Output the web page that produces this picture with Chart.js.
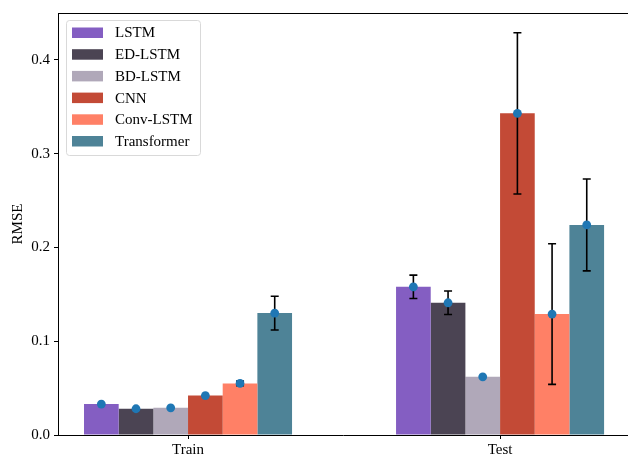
<!DOCTYPE html>
<html lang="en">
  <head>
    <meta charset="UTF-8" />
    <title>RMSE - Train vs Test</title>
    <script src="https://cdnjs.cloudflare.com/ajax/libs/Chart.js/4.4.1/chart.umd.min.js"></script>
    <style>
      html, body { margin: 0; padding: 0; background: #fff; overflow: hidden; }
      .chart-container { width: 628px; height: 456px; }
    </style>
  </head>
  <body>
    <div class="chart-container"><canvas id="rmseChart"></canvas></div>
    <script>
      // categories on the x axis (placed at x = 0 and x = 1)
      const categories = ["Train", "Test"];
      const models = ["LSTM", "ED-LSTM", "BD-LSTM", "CNN", "Conv-LSTM", "Transformer"];
      const colors = ["#845EC2", "#4B4453", "#B0A8B9", "#C34A36", "#FF8066", "#4E8397"];

      // mean RMSE [Train, Test]
      const lstmMean = [0.033, 0.158];
      const edLstmMean = [0.028, 0.141];
      const bdLstmMean = [0.029, 0.062];
      const cnnMean = [0.042, 0.343];
      const convLstmMean = [0.055, 0.129];
      const transformerMean = [0.130, 0.224];

      // error bar half-length [Train, Test]
      const lstmErr = [0.0, 0.0125];
      const edLstmErr = [0.0, 0.0125];
      const bdLstmErr = [0.0, 0.0];
      const cnnErr = [0.0, 0.086];
      const convLstmErr = [0.0025, 0.075];
      const transformerErr = [0.018, 0.049];

      const yTicks = [0, 0.1, 0.2, 0.3, 0.4];

      const means = [lstmMean, edLstmMean, bdLstmMean, cnnMean, convLstmMean, transformerMean];
      const errs = [lstmErr, edLstmErr, bdLstmErr, cnnErr, convLstmErr, transformerErr];

      const FONT = "'Liberation Serif', 'Times New Roman', serif";
      Chart.defaults.font.family = FONT;
      Chart.defaults.font.size = 15;
      Chart.defaults.color = "#000";

      const datasets = models.map((name, i) => ({
        label: name,
        data: means[i].map((v, j) => ({ x: j, y: v })),
        errors: errs[i],
        backgroundColor: colors[i],
        borderWidth: 0,
        categoryPercentage: 0.6667,
        barPercentage: 1.0
      }));

      // error bars + blue mean markers, placed on each bar element
      const markersPlugin = {
        id: "markers",
        afterDatasetsDraw(chart) {
          const ctx = chart.ctx;
          const y = chart.scales.y;
          ctx.save();
          chart.data.datasets.forEach((ds, i) => {
            const meta = chart.getDatasetMeta(i);
            meta.data.forEach((bar, j) => {
              const v = ds.data[j].y;
              const e = ds.errors[j];
              if (e > 0) {
                const top = y.getPixelForValue(v + e);
                const bot = y.getPixelForValue(v - e);
                ctx.strokeStyle = "#000";
                ctx.lineWidth = 1.6;
                ctx.beginPath();
                ctx.moveTo(bar.x, top);
                ctx.lineTo(bar.x, bot);
                ctx.moveTo(bar.x - 4, top);
                ctx.lineTo(bar.x + 4, top);
                ctx.moveTo(bar.x - 4, bot);
                ctx.lineTo(bar.x + 4, bot);
                ctx.stroke();
              }
            });
          });
          chart.data.datasets.forEach((ds, i) => {
            const meta = chart.getDatasetMeta(i);
            meta.data.forEach((bar, j) => {
              ctx.fillStyle = "#1f77b4";
              ctx.beginPath();
              ctx.arc(bar.x, y.getPixelForValue(ds.data[j].y), 4.4, 0, Math.PI * 2);
              ctx.fill();
            });
          });
          ctx.restore();
        },
        afterDraw(chart) {
          const ctx = chart.ctx;
          const a = chart.chartArea;
          ctx.save();
          // top spine only; the right spine falls outside the picture
          ctx.strokeStyle = "#000";
          ctx.lineWidth = 1;
          ctx.beginPath();
          ctx.moveTo(a.left, a.top + 0.5);
          ctx.lineTo(chart.width, a.top + 0.5);
          ctx.stroke();

          // legend box in the upper left
          const bx = a.left + 8, by = a.top + 7, bw = 134, bh = 135;
          ctx.fillStyle = "rgba(255,255,255,0.8)";
          ctx.strokeStyle = "#d9d9d9";
          ctx.beginPath();
          ctx.roundRect(bx + 0.5, by + 0.5, bw, bh, 3);
          ctx.fill();
          ctx.stroke();
          ctx.font = "15px " + FONT;
          ctx.textBaseline = "middle";
          chart.data.datasets.forEach((ds, i) => {
            const cy = by + 12.5 + i * 21.7;
            ctx.fillStyle = ds.backgroundColor;
            ctx.fillRect(bx + 6, cy - 5, 31, 10.5);
            ctx.fillStyle = "#000";
            ctx.fillText(ds.label, bx + 49, cy + 1);
          });
          ctx.restore();
        }
      };

      new Chart(document.getElementById("rmseChart"), {
        type: "bar",
        data: { datasets },
        options: {
          responsive: true,
          maintainAspectRatio: false,
          animation: false,
          layout: { padding: { top: 10, right: 0, left: 0, bottom: 0 } },
          plugins: { legend: { display: false }, tooltip: { enabled: false } },
          scales: {
            x: {
              type: "linear",
              min: -0.4167,
              max: 1.41,
              offset: false,
              grid: { display: true, offset: false, drawOnChartArea: false, tickLength: 4, color: "#000" },
              border: { color: "#000", width: 1 },
              afterBuildTicks: (s) => { s.ticks = categories.map((_, i) => ({ value: i })); },
              afterFit: (s) => { s.height = 21; },
              ticks: { padding: 2, maxRotation: 0, callback: (v) => categories[v] }
            },
            y: {
              min: 0,
              max: 0.45,
              grid: { display: true, drawOnChartArea: false, tickLength: 4, color: "#000" },
              border: { color: "#000", width: 1 },
              afterBuildTicks: (s) => { s.ticks = yTicks.map((v) => ({ value: v })); },
              afterFit: (s) => { s.width = 58; },
              ticks: { padding: 4, callback: (v) => v.toFixed(1) },
              title: { display: true, text: "RMSE", padding: { top: 9, bottom: 0 } }
            }
          }
        },
        plugins: [markersPlugin]
      });
    </script>
  </body>
</html>
